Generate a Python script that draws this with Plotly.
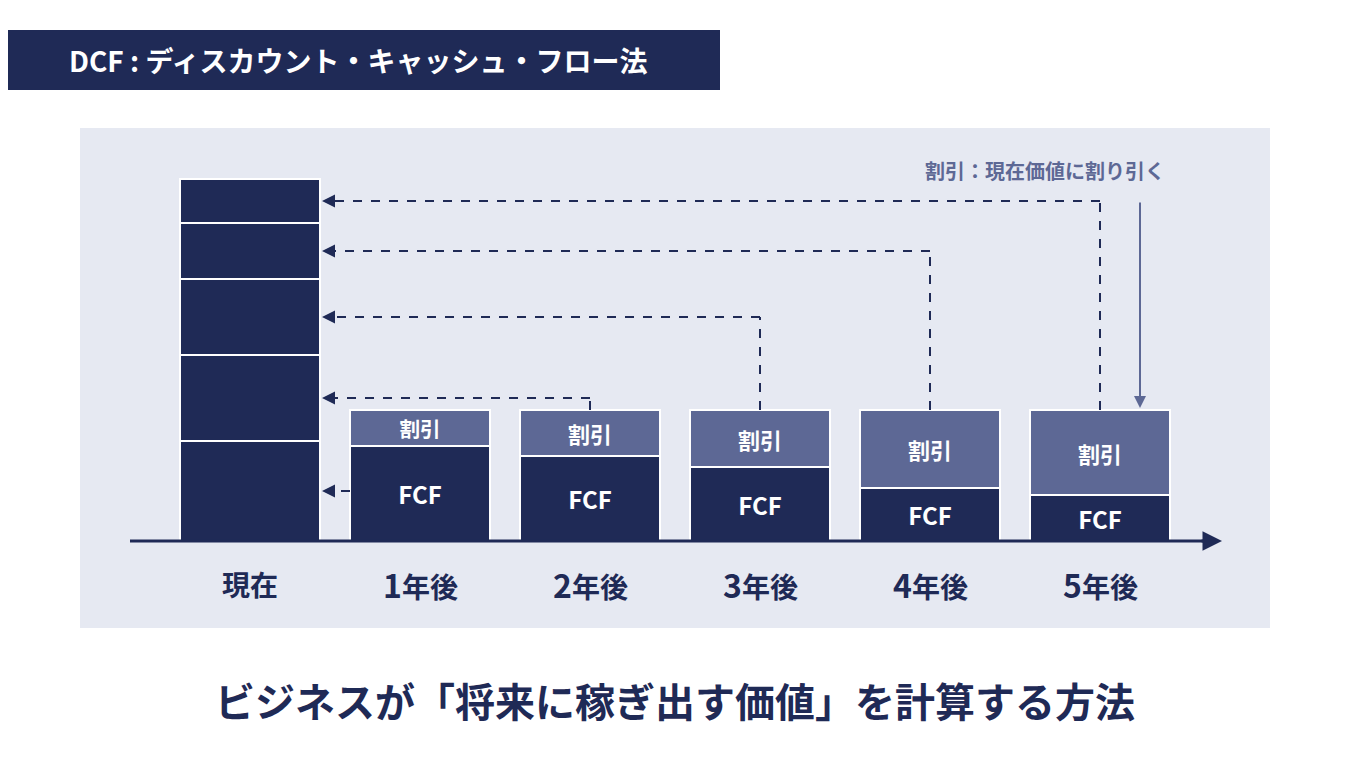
import plotly.graph_objects as go

NAVY = "#1f2a56"
DISC = "#5d6895"
PANEL = "#e6e9f2"
FONT = "Noto Sans CJK JP"

categories = ["現在", "1年後", "2年後", "3年後", "4年後", "5年後"]
x_pos = [250, 420, 590, 760, 930, 1100]
present_segments = [100, 86, 76, 56, 44]   # present value of years 1..5 (stacked)
fcf = [95, 85, 74, 53, 46]
discount = [36, 46, 57, 78, 85]

OFF = 8  # page body margin


def px(x):
    return (x - OFF) / 1350


def py(y):
    return (760 - (y - OFF)) / 760


fig = go.Figure()
base = 0
pv_mid = []
for h in present_segments:
    fig.add_trace(go.Bar(x=[x_pos[0]], y=[h], base=[base], width=140,
                         marker=dict(color=NAVY, line=dict(color="white", width=2))))
    pv_mid.append(base + h / 2)
    base += h
fig.add_trace(go.Bar(x=x_pos[1:], y=fcf, width=140,
                     marker=dict(color=NAVY, line=dict(color="white", width=2)),
                     text=["<b>FCF</b>"] * 5, textposition="inside", insidetextanchor="middle",
                     textfont=dict(color="white", size=24, family=FONT)))
fig.add_trace(go.Bar(x=x_pos[1:], y=discount, base=fcf, width=140,
                     marker=dict(color=DISC, line=dict(color="white", width=2)),
                     text=["<b>割引</b>"] * 5, textposition="inside", insidetextanchor="middle",
                     textfont=dict(color="white", size=22, family=FONT)))

shapes = [
    dict(type="rect", xref="paper", yref="paper", x0=px(80), x1=px(1270), y0=py(628), y1=py(128),
         fillcolor=PANEL, line_width=0, layer="below"),
    dict(type="rect", xref="paper", yref="paper", x0=px(0), x1=px(720), y0=py(90), y1=py(30),
         fillcolor=NAVY, line_width=0, layer="below"),
    dict(type="line", x0=130, x1=1212, y0=0, y1=0, line=dict(color=NAVY, width=3)),
]
annotations = []
tip = 322
for i in range(5):
    xc = x_pos[i + 1]
    top = fcf[i] + discount[i]
    lvl = pv_mid[i]
    if i == 0:
        shapes.append(dict(type="line", x0=xc - 70, x1=tip + 12, y0=lvl, y1=lvl,
                           line=dict(color=NAVY, width=2, dash="dash")))
    else:
        shapes.append(dict(type="line", x0=xc, x1=xc, y0=top, y1=lvl,
                           line=dict(color=NAVY, width=2, dash="dash")))
        shapes.append(dict(type="line", x0=xc, x1=tip + 12, y0=lvl, y1=lvl,
                           line=dict(color=NAVY, width=2, dash="dash")))
    annotations.append(dict(x=tip, y=lvl, ax=tip + 14, ay=lvl, axref="x", ayref="y", xref="x", yref="y",
                            text="", showarrow=True, arrowhead=2, arrowsize=1.3, arrowwidth=2, arrowcolor=NAVY))
annotations.append(dict(x=1222, y=0, ax=1200, ay=0, axref="x", ayref="y", text="", showarrow=True,
                        arrowhead=2, arrowsize=1.3, arrowwidth=3, arrowcolor=NAVY))
annotations.append(dict(x=1140, y=133, ax=1140, ay=340, axref="x", ayref="y", text="", showarrow=True,
                        arrowhead=2, arrowsize=1.2, arrowwidth=2, arrowcolor=DISC))
annotations.append(dict(x=1045, y=371, text="<b>割引：現在価値に割り引く</b>", showarrow=False,
                        xanchor="center", yanchor="middle",
                        font=dict(color=DISC, size=20, family=FONT)))
for c, xp in zip(categories, x_pos):
    if c[0].isdigit():
        t = f"<b><span style='font-size:32px'>{c[0]}</span>{c[1:]}</b>"
    else:
        t = f"<b>{c}</b>"
    annotations.append(dict(x=xp, y=-43, text=t, showarrow=False, xanchor="center", yanchor="middle",
                            font=dict(color=NAVY, size=28, family=FONT)))
annotations.append(dict(xref="paper", yref="paper", x=px(358), y=py(60), xanchor="center", yanchor="middle",
                        text="<b>DCF : ディスカウント・キャッシュ・フロー法</b>", showarrow=False,
                        font=dict(color="white", size=28, family=FONT)))
annotations.append(dict(xref="paper", yref="paper", x=px(675), y=py(700), xanchor="center", yanchor="middle",
                        text="<b>ビジネスが「将来に稼ぎ出す価値」を計算する方法</b>", showarrow=False,
                        font=dict(color=NAVY, size=40, family=FONT)))

fig.update_layout(
    width=1350, height=760, margin=dict(l=0, r=0, t=0, b=0),
    paper_bgcolor="white", plot_bgcolor="rgba(0,0,0,0)",
    barmode="overlay", showlegend=False,
    xaxis=dict(range=[OFF, 1350 + OFF], visible=False, fixedrange=True),
    yaxis=dict(range=[-227, 533], visible=False, fixedrange=True),
    shapes=shapes, annotations=annotations,
)
fig.write_html("out.html")
